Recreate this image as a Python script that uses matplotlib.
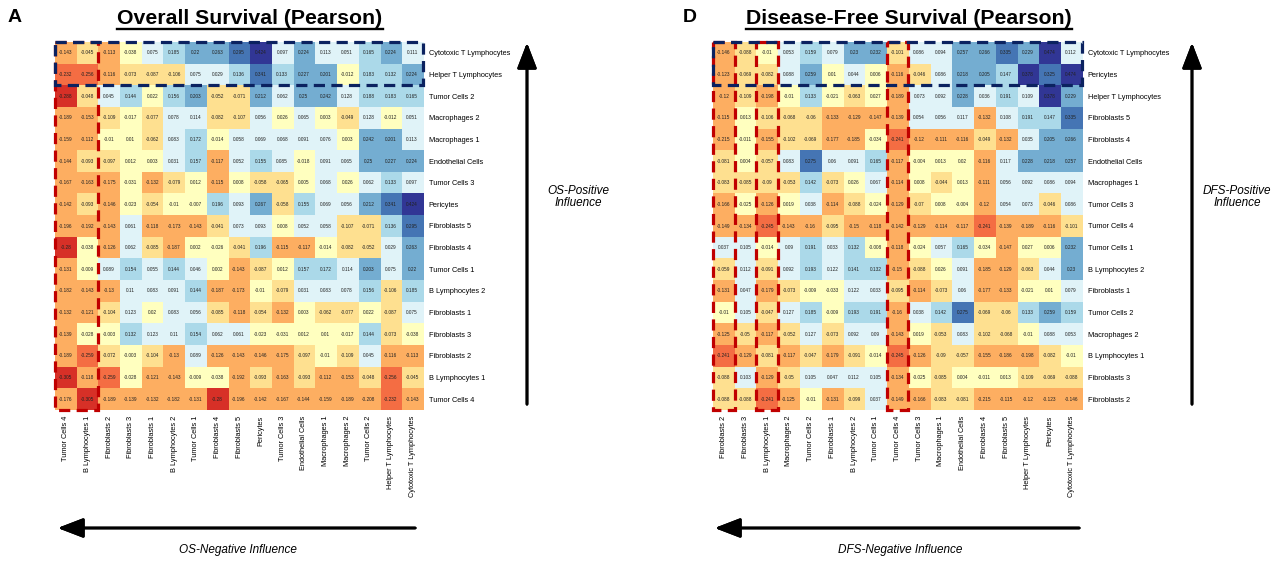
import matplotlib
matplotlib.use('Agg')
import matplotlib.pyplot as plt
import numpy as np
from matplotlib.colors import ListedColormap, BoundaryNorm
from matplotlib.patches import Rectangle
from matplotlib.lines import Line2D

plt.rcParams['font.family'] = ['Liberation Sans', 'DejaVu Sans']

# ---- Overall Survival (Pearson) ----
os_rows = ['Cytotoxic T Lymphocytes', 'Helper T Lymphocytes', 'Tumor Cells 2', 'Macrophages 2',
           'Macrophages 1', 'Endothelial Cells', 'Tumor Cells 3', 'Pericytes', 'Fibroblasts 5',
           'Fibroblasts 4', 'Tumor Cells 1', 'B Lymphocytes 2', 'Fibroblasts 1', 'Fibroblasts 3',
           'Fibroblasts 2', 'B Lymphocytes 1', 'Tumor Cells 4']
os_cols = ['Tumor Cells 4', 'B Lymphocytes 1', 'Fibroblasts 2', 'Fibroblasts 3', 'Fibroblasts 1',
           'B Lymphocytes 2', 'Tumor Cells 1', 'Fibroblasts 4', 'Fibroblasts 5', 'Pericytes',
           'Tumor Cells 3', 'Endothelial Cells', 'Macrophages 1', 'Macrophages 2', 'Tumor Cells 2',
           'Helper T Lymphocytes', 'Cytotoxic T Lymphocytes']
os_values = [
    [-0.143, -0.045, -0.113, -0.038, 0.075, 0.185, 0.22, 0.263, 0.295, 0.424, 0.097, 0.224, 0.113, 0.051, 0.165, 0.224, 0.111],
    [-0.232, -0.256, -0.116, -0.073, -0.087, -0.106, 0.075, 0.029, 0.136, 0.341, 0.133, 0.227, 0.201, -0.012, 0.183, 0.132, 0.224],
    [-0.288, -0.048, 0.045, 0.144, 0.022, 0.156, 0.203, -0.052, -0.071, 0.212, 0.062, 0.25, 0.242, 0.128, 0.188, 0.183, 0.165],
    [-0.189, -0.153, -0.109, -0.017, -0.077, 0.078, 0.114, -0.082, -0.107, 0.056, 0.026, 0.065, 0.003, -0.049, 0.128, -0.012, 0.051],
    [-0.159, -0.112, -0.01, 0.01, -0.062, 0.083, 0.172, -0.014, 0.058, 0.069, 0.068, 0.091, 0.076, 0.003, 0.242, 0.201, 0.113],
    [-0.144, -0.093, -0.097, 0.012, 0.003, 0.031, 0.157, -0.117, 0.052, 0.155, 0.085, -0.018, 0.091, 0.065, 0.25, 0.227, 0.224],
    [-0.167, -0.163, -0.175, -0.031, -0.132, -0.079, 0.012, -0.115, 0.008, -0.058, -0.065, 0.005, 0.068, 0.026, 0.062, 0.133, 0.097],
    [-0.142, -0.093, -0.146, -0.023, -0.054, -0.01, -0.007, 0.196, 0.093, 0.267, -0.058, 0.155, 0.069, 0.056, 0.212, 0.341, 0.424],
    [-0.196, -0.192, -0.143, 0.061, -0.118, -0.173, -0.143, -0.041, 0.073, 0.093, 0.008, 0.052, 0.058, -0.107, -0.071, 0.136, 0.295],
    [-0.28, -0.038, -0.126, 0.062, -0.085, -0.187, 0.002, -0.026, -0.041, 0.196, -0.115, -0.117, -0.014, -0.082, -0.052, 0.029, 0.263],
    [-0.131, -0.009, 0.089, 0.154, 0.055, 0.144, 0.046, 0.002, -0.143, -0.087, 0.012, 0.157, 0.172, 0.114, 0.203, 0.075, 0.22],
    [-0.182, -0.143, -0.13, 0.11, 0.083, 0.091, 0.144, -0.187, -0.173, -0.01, -0.079, 0.031, 0.083, 0.078, 0.156, -0.106, 0.185],
    [-0.132, -0.121, -0.104, 0.123, 0.02, 0.083, 0.056, -0.085, -0.118, -0.054, -0.132, 0.003, -0.062, -0.077, 0.022, -0.087, 0.075],
    [-0.139, -0.028, -0.003, 0.132, 0.123, 0.11, 0.154, 0.062, 0.061, -0.023, -0.031, 0.012, 0.01, -0.017, 0.144, -0.073, -0.038],
    [-0.189, -0.259, -0.072, -0.003, -0.104, -0.13, 0.089, -0.126, -0.143, -0.146, -0.175, -0.097, -0.01, -0.109, 0.045, -0.116, -0.113],
    [-0.305, -0.118, -0.259, -0.028, -0.121, -0.143, -0.009, -0.038, -0.192, -0.093, -0.163, -0.093, -0.112, -0.153, -0.048, -0.256, -0.045],
    [-0.176, -0.305, -0.189, -0.139, -0.132, -0.182, -0.131, -0.28, -0.196, -0.142, -0.167, -0.144, -0.159, -0.189, -0.208, -0.232, -0.143],
]

# ---- Disease-Free Survival (Pearson) ----
dfs_rows = ['Cytotoxic T Lymphocytes', 'Pericytes', 'Helper T Lymphocytes', 'Fibroblasts 5',
            'Fibroblasts 4', 'Endothelial Cells', 'Macrophages 1', 'Tumor Cells 3', 'Tumor Cells 4',
            'Tumor Cells 1', 'B Lymphocytes 2', 'Fibroblasts 1', 'Tumor Cells 2', 'Macrophages 2',
            'B Lymphocytes 1', 'Fibroblasts 3', 'Fibroblasts 2']
dfs_cols = ['Fibroblasts 2', 'Fibroblasts 3', 'B Lymphocytes 1', 'Macrophages 2', 'Tumor Cells 2',
            'Fibroblasts 1', 'B Lymphocytes 2', 'Tumor Cells 1', 'Tumor Cells 4', 'Tumor Cells 3',
            'Macrophages 1', 'Endothelial Cells', 'Fibroblasts 4', 'Fibroblasts 5',
            'Helper T Lymphocytes', 'Pericytes', 'Cytotoxic T Lymphocytes']
dfs_values = [
    [-0.146, -0.088, -0.01, 0.053, 0.159, 0.079, 0.23, 0.232, -0.101, 0.086, 0.094, 0.257, 0.266, 0.335, 0.229, 0.474, 0.112],
    [-0.123, -0.069, -0.082, 0.088, 0.259, 0.01, 0.044, 0.006, -0.116, -0.046, 0.086, 0.218, 0.205, 0.147, 0.378, 0.325, 0.474],
    [-0.12, -0.109, -0.198, -0.01, 0.133, -0.021, -0.063, 0.027, -0.189, 0.073, 0.092, 0.228, 0.036, 0.191, 0.109, 0.378, 0.229],
    [-0.115, 0.013, -0.106, -0.068, -0.06, -0.133, -0.129, -0.147, -0.139, 0.054, 0.056, 0.117, -0.132, 0.108, 0.191, 0.147, 0.335],
    [-0.215, -0.011, -0.155, -0.102, -0.069, -0.177, -0.185, -0.034, -0.241, -0.12, -0.111, -0.116, -0.049, -0.132, 0.035, 0.205, 0.266],
    [-0.081, 0.004, -0.057, 0.083, 0.275, 0.06, 0.091, 0.165, -0.117, -0.004, 0.013, 0.02, -0.116, 0.117, 0.228, 0.218, 0.257],
    [-0.083, -0.085, -0.09, -0.053, 0.142, -0.073, 0.026, 0.067, -0.114, 0.008, -0.044, 0.013, -0.111, 0.056, 0.092, 0.086, 0.094],
    [-0.166, -0.025, -0.126, 0.019, 0.038, -0.114, -0.088, -0.024, -0.129, -0.07, 0.008, -0.004, -0.12, 0.054, 0.073, -0.046, 0.086],
    [-0.149, -0.134, -0.245, -0.143, -0.16, -0.095, -0.15, -0.118, -0.142, -0.129, -0.114, -0.117, -0.241, -0.139, -0.189, -0.116, -0.101],
    [0.037, 0.105, -0.014, 0.09, 0.191, 0.033, 0.132, -0.008, -0.118, -0.024, 0.057, 0.165, -0.034, -0.147, 0.027, 0.006, 0.232],
    [-0.059, 0.112, -0.091, 0.092, 0.193, 0.122, 0.141, 0.132, -0.15, -0.088, 0.026, 0.091, -0.185, -0.129, -0.063, 0.044, 0.23],
    [-0.131, 0.047, -0.179, -0.073, -0.009, -0.033, 0.122, 0.033, -0.095, -0.114, -0.073, 0.06, -0.177, -0.133, -0.021, 0.01, 0.079],
    [-0.01, 0.105, -0.047, 0.127, 0.185, -0.009, 0.193, 0.191, -0.16, 0.038, 0.142, 0.275, -0.069, -0.06, 0.133, 0.259, 0.159],
    [-0.125, -0.05, -0.117, -0.052, 0.127, -0.073, 0.092, 0.09, -0.143, 0.019, -0.053, 0.083, -0.102, -0.068, -0.01, 0.088, 0.053],
    [-0.241, -0.129, -0.081, -0.117, -0.047, -0.179, -0.091, -0.014, -0.245, -0.126, -0.09, -0.057, -0.155, -0.186, -0.198, -0.082, -0.01],
    [-0.088, 0.103, -0.129, -0.05, 0.105, 0.047, 0.112, 0.105, -0.134, -0.025, -0.085, 0.004, -0.011, 0.013, -0.109, -0.069, -0.088],
    [-0.088, -0.088, -0.241, -0.125, -0.01, -0.131, -0.099, 0.037, -0.149, -0.166, -0.083, -0.081, -0.215, -0.115, -0.12, -0.123, -0.146],
]

# binned RdYlBu-like palette
bins = [-0.5, -0.275, -0.225, -0.11, -0.04, 0.028, 0.13, 0.2, 0.275, 0.36, 0.6]
colors = ['#d73027', '#f46d43', '#fdae61', '#fee090', '#ffffbf',
          '#e0f3f8', '#abd9e9', '#74add1', '#4575b4', '#313695']
cmap = ListedColormap(colors)
norm = BoundaryNorm(bins, cmap.N)

W, H = 1287, 563
fig = plt.figure(figsize=(W / 100, H / 100), dpi=100)


def px(x0, y0, w, h):
    return [x0 / W, 1 - (y0 + h) / H, w / W, h / H]


navy = '#0b2260'
red = '#c00000'


def heatmap(rect, vals, rows, cols, red_boxes):
    ax = fig.add_axes(rect)
    m = np.array(vals)
    ax.imshow(m, cmap=cmap, norm=norm, aspect='auto', interpolation='nearest')
    for i in range(m.shape[0]):
        for j in range(m.shape[1]):
            ax.text(j, i, '%g' % m[i, j], ha='center', va='center', fontsize=3.4, color='#222222')
    ax.yaxis.tick_right()
    ax.set_yticks(range(len(rows)))
    ax.set_yticklabels(rows, fontsize=5.3)
    ax.set_xticks(range(len(cols)))
    ax.set_xticklabels(cols, fontsize=5.3, rotation=90)
    ax.tick_params(length=0, pad=4)
    for s in ax.spines.values():
        s.set_visible(False)
    for c0, c1 in red_boxes:
        ax.add_patch(Rectangle((c0 - 0.5, -0.5), c1 - c0 + 1, m.shape[0], fill=False,
                               ec=red, lw=2.3, ls=(0, (3.5, 2)), clip_on=False, zorder=5))
    ax.add_patch(Rectangle((-0.5, -0.5), m.shape[1], 2, fill=False,
                           ec=navy, lw=2.3, ls=(0, (3.5, 2)), clip_on=False, zorder=6))
    return ax


heatmap(px(55, 42, 368, 368), os_values, os_rows, os_cols, [(0, 1)])
heatmap(px(713, 42, 369, 368), dfs_values, dfs_rows, dfs_cols, [(0, 0), (2, 2), (8, 8)])

# titles and panel letters
renderer = fig.canvas.get_renderer()
for xc, title in [(250, 'Overall Survival (Pearson)'), (909, 'Disease-Free Survival (Pearson)')]:
    t = fig.text(xc / W, 1 - 18 / H, title, ha='center', va='center', fontsize=15.3, fontweight='bold')
    bb = t.get_window_extent(renderer)
    fig.add_artist(Line2D([bb.x0 / W, bb.x1 / W], [(bb.y0 - 1) / H, (bb.y0 - 1) / H],
                          color='black', lw=1.7))
fig.text(15 / W, 1 - 18 / H, 'A', ha='center', va='center', fontsize=14, fontweight='bold')
fig.text(690 / W, 1 - 18 / H, 'D', ha='center', va='center', fontsize=14, fontweight='bold')

# arrows
arr = dict(arrowstyle='-|>,head_length=1.3,head_width=0.5', lw=2, color='black', mutation_scale=12)
for xv in [527, 1192]:
    fig.add_artist(plt.annotate('', xy=(xv / W, 1 - 40 / H), xytext=(xv / W, 1 - 407 / H),
                                xycoords='figure fraction', arrowprops=arr))
for x0, x1 in [(55, 418), (712, 1082)]:
    fig.add_artist(plt.annotate('', xy=(x0 / W, 1 - 528 / H), xytext=(x1 / W, 1 - 528 / H),
                                xycoords='figure fraction', arrowprops=arr))

fig.text(578 / W, 1 - 197 / H, 'OS-Positive\nInfluence', ha='center', va='center',
         fontsize=8.5, style='italic', linespacing=1.1)
fig.text(1237 / W, 1 - 197 / H, 'DFS-Positive\nInfluence', ha='center', va='center',
         fontsize=8.5, style='italic', linespacing=1.1)
fig.text(238 / W, 1 - 550 / H, 'OS-Negative Influence', ha='center', va='center',
         fontsize=8.5, style='italic')
fig.text(900 / W, 1 - 550 / H, 'DFS-Negative Influence', ha='center', va='center',
         fontsize=8.5, style='italic')

fig.savefig('out.png', dpi=100)
